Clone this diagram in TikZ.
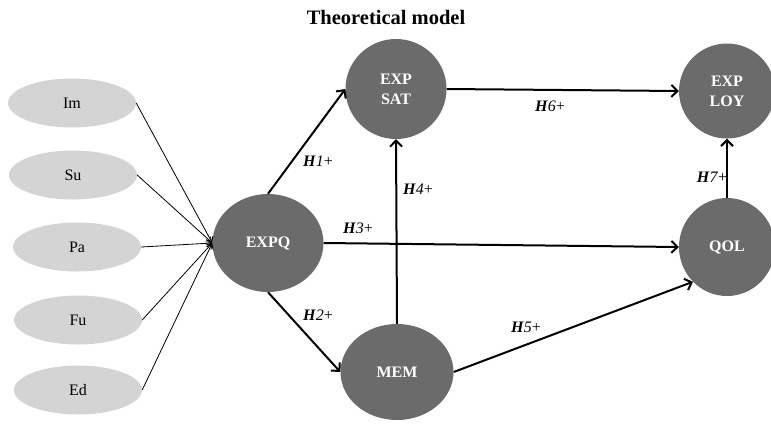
\documentclass[tikz,border=0pt]{standalone}
\usepackage{fontspec}
\setmainfont{Liberation Serif}
\usetikzlibrary{shapes.geometric,arrows.meta}
\definecolor{darknode}{HTML}{6B6B6B}
\definecolor{lightnode}{HTML}{D4D4D4}
\begin{document}
\begin{tikzpicture}[x=1pt,y=-1pt,
  indic/.style={ellipse,fill=lightnode,minimum width=128pt,minimum height=49pt,inner sep=0pt,font=\fontsize{16}{18}\selectfont},
  latent/.style={ellipse,fill=darknode,inner sep=0pt,text=white,align=center,font=\fontsize{16}{20}\selectfont\bfseries},
  thinarrow/.style={line width=0.8pt,-{Straight Barb[length=5pt,width=7pt]}},
  hyp/.style={line width=2pt,-{Straight Barb[length=6pt,width=12pt,line width=2pt]}},
  hlab/.style={font=\fontsize{16}{18}\selectfont,inner sep=1pt}]
\useasboundingbox (0,0) rectangle (771,424);
\node[font=\fontsize{20.5}{24}\selectfont\bfseries] (title) at (386,17) {Theoretical model};
\node[indic] (im) at (72,103) {Im};
\node[indic] (su) at (73,175) {Su};
\node[indic] (pa) at (77,247) {Pa};
\node[indic] (fu) at (78,320) {Fu};
\node[indic] (ed) at (78,390) {Ed};
\node[latent,minimum width=111pt,minimum height=98pt] (expq) at (268,243) {EXPQ};
\node[latent,minimum width=101pt,minimum height=100pt] (expsat) at (396,89) {EXP\\SAT};
\node[latent,minimum width=96pt,minimum height=95pt] (exploy) at (727,91) {EXP\\LOY};
\node[latent,minimum width=96pt,minimum height=98pt] (qol) at (727,247) {QOL};
\node[latent,minimum width=113pt,minimum height=96pt] (mem) at (397,372) {MEM};
\foreach \n in {im,su,pa,fu,ed}{\draw[thinarrow] (\n.east) -- (expq.west);}
\draw[hyp] (expq.north) -- (expsat.west);
\draw[hyp] (expq.south) -- (mem.west);
\draw[hyp] (expq.east) -- (qol.west);
\draw[hyp] (mem.north) -- (expsat.south);
\draw[hyp] (mem.east) -- (qol.south west);
\draw[hyp] (expsat.east) -- (exploy.west);
\draw[hyp] (qol.north) -- (exploy.south);
\node[hlab] (l1) at (318,161) {\textbf{\textit{H}}\textit{1}+};
\node[hlab] (l2) at (318,315) {\textbf{\textit{H}}\textit{2}+};
\node[hlab] (l3) at (358,228) {\textbf{\textit{H}}\textit{3}+};
\node[hlab] (l4) at (418,189) {\textbf{\textit{H}}\textit{4}+};
\node[hlab] (l5) at (526,327) {\textbf{\textit{H}}\textit{5}+};
\node[hlab] (l6) at (550,106) {\textbf{\textit{H}}\textit{6}+};
\node[hlab] (l7) at (712,177) {\textbf{\textit{H}}\textit{7}+};
\end{tikzpicture}
\end{document}
